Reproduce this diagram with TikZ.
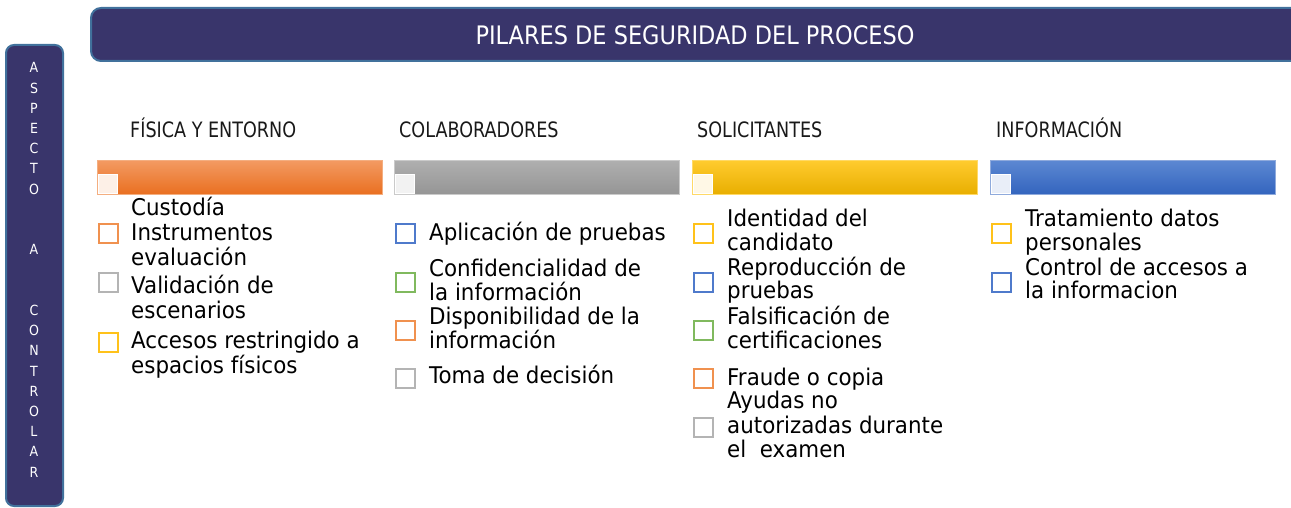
\documentclass[tikz,border=0pt]{standalone}
\usepackage{fontspec}
\setmainfont{DejaVu Sans}
\newfontfamily\titlefont{DejaVu Sans}[FakeStretch=0.88]
\newfontfamily\headfont{DejaVu Sans}[FakeStretch=0.83]
\newfontfamily\bodyfont{DejaVu Sans}[FakeStretch=0.93]
\newfontfamily\sidefont{DejaVu Sans}[FakeStretch=0.9]
\definecolor{cNavy}{HTML}{39356B}
\definecolor{cSteel}{HTML}{41719C}
\definecolor{cOr}{HTML}{F0914F}
\definecolor{cGr}{HTML}{B4B4B4}
\definecolor{cYe}{HTML}{FFC21A}
\definecolor{cBl}{HTML}{4F7ACB}
\definecolor{cGn}{HTML}{80B95E}
\definecolor{orTop}{HTML}{F39A62}
\definecolor{orBot}{HTML}{E96F20}
\definecolor{orLine}{HTML}{F4AE80}
\definecolor{grTop}{HTML}{AFAFAF}
\definecolor{grBot}{HTML}{959595}
\definecolor{grLine}{HTML}{CACACA}
\definecolor{yeTop}{HTML}{FFCB2E}
\definecolor{yeBot}{HTML}{E8AE00}
\definecolor{yeLine}{HTML}{FFD966}
\definecolor{blTop}{HTML}{5C88D2}
\definecolor{blBot}{HTML}{3364BE}
\definecolor{blLine}{HTML}{8FAADC}
\definecolor{orSq}{HTML}{FDF0E7}
\definecolor{grSq}{HTML}{F2F2F2}
\definecolor{yeSq}{HTML}{FFF8E6}
\definecolor{blSq}{HTML}{E9EEF8}
\tikzset{
  titlebox/.style={fill=cNavy, draw=cSteel, line width=2pt, rounded corners=10pt},
  sidebox/.style={fill=cNavy, draw=cSteel, line width=2pt, rounded corners=8pt},
  bar/.style={minimum width=285pt, minimum height=34pt, inner sep=0pt, anchor=north west, line width=1pt},
  barsq/.style={minimum size=19pt, inner sep=0pt, anchor=north west, draw=white, line width=0.6pt},
  itembox/.style={minimum size=19.5pt, inner sep=0pt, anchor=north west, line width=1.8pt, fill=white},
  body/.style={anchor=base west, inner sep=0pt, text=black, font=\bodyfont\fontsize{23}{24}\selectfont},
  head/.style={anchor=base west, inner sep=0pt, text=black!90, font=\headfont\fontsize{21.2}{24}\selectfont},
  sideletter/.style={anchor=base, inner sep=0pt, text=white, font=\sidefont\fontsize{14}{16}\selectfont},
}
\begin{document}
\begin{tikzpicture}[x=1pt, y=-1pt]
\useasboundingbox (0,0) rectangle (1291,508);
\clip (0,0) rectangle (1291,508);
% title
\draw[titlebox] (91,8) rectangle (1320,61);
\node[anchor=base, inner sep=0pt, text=white, font=\titlefont\fontsize{25.5}{28}\selectfont] (title) at (695,45) {PILARES DE SEGURIDAD DEL PROCESO};
% side bar
\draw[sidebox] (6,45) rectangle (63,506);
\foreach \i/\l in {0/A,1/S,2/P,3/E,4/C,5/T,6/O,9/A,12/C,13/O,14/N,15/T,16/R,17/O,18/L,19/A,20/R}
  \node[sideletter] (v\i) at (34,{73+20.2*\i}) {\l};
% headers
\node[head] (h1) at (130,138) {FÍSICA Y ENTORNO};
\node[head] (h2) at (399,138) {COLABORADORES};
\node[head] (h3) at (697,138) {SOLICITANTES};
\node[head] (h4) at (996,138) {INFORMACIÓN};
% bars
\node[bar, top color=orTop, bottom color=orBot, draw=orLine] (bar1) at (97,160) {};
\node[bar, top color=grTop, bottom color=grBot, draw=grLine] (bar2) at (394,160) {};
\node[bar, top color=yeTop, bottom color=yeBot, draw=yeLine] (bar3) at (692,160) {};
\node[bar, top color=blTop, bottom color=blBot, draw=blLine] (bar4) at (990,160) {};
\node[barsq, fill=orSq] (bq1) at (98,174) {};
\node[barsq, fill=grSq] (bq2) at (395,174) {};
\node[barsq, fill=yeSq] (bq3) at (693,174) {};
\node[barsq, fill=blSq] (bq4) at (991,174) {};
% item boxes
\foreach \x/\y/\c [count=\i] in {
  97/222/cOr, 97/271/cGr, 97/331/cYe,
  394/222/cBl, 394/271/cGn, 394/319/cOr, 394/367/cGr,
  692/222/cYe, 692/271/cBl, 692/319/cGn, 692/367/cOr, 692/416/cGr,
  990/222/cYe, 990/271/cBl}
  \node[itembox, draw=\c] (s\i) at (\x+0.9,\y+0.9) {};
% item texts
\foreach \x/\y/\t [count=\i] in {
  131/215/Custodía, 131/240/Instrumentos, 131/265/evaluación,
  131/293/Validación de, 131/318/escenarios,
  131/348/Accesos restringido a, 131/373/espacios físicos,
  429/240/Aplicación de pruebas,
  429/276/Confidencialidad de, 429/300/la información,
  429/324/Disponibilidad de la, 429/348/información,
  429/383/Toma de decisión,
  727/226/Identidad del, 727/250/candidato,
  727/275/Reproducción de, 727/298/pruebas,
  727/324/Falsificación de, 727/348/certificaciones,
  727/385/Fraude o copia,
  727/408/Ayudas no, 727/433/autorizadas durante, 727/457/el\ \ examen,
  1025/226/Tratamiento datos, 1025/250/personales,
  1025/275/Control de accesos a, 1025/298/la informacion}
  \node[body] (t\i) at (\x,\y) {\t};
\end{tikzpicture}
\end{document}
